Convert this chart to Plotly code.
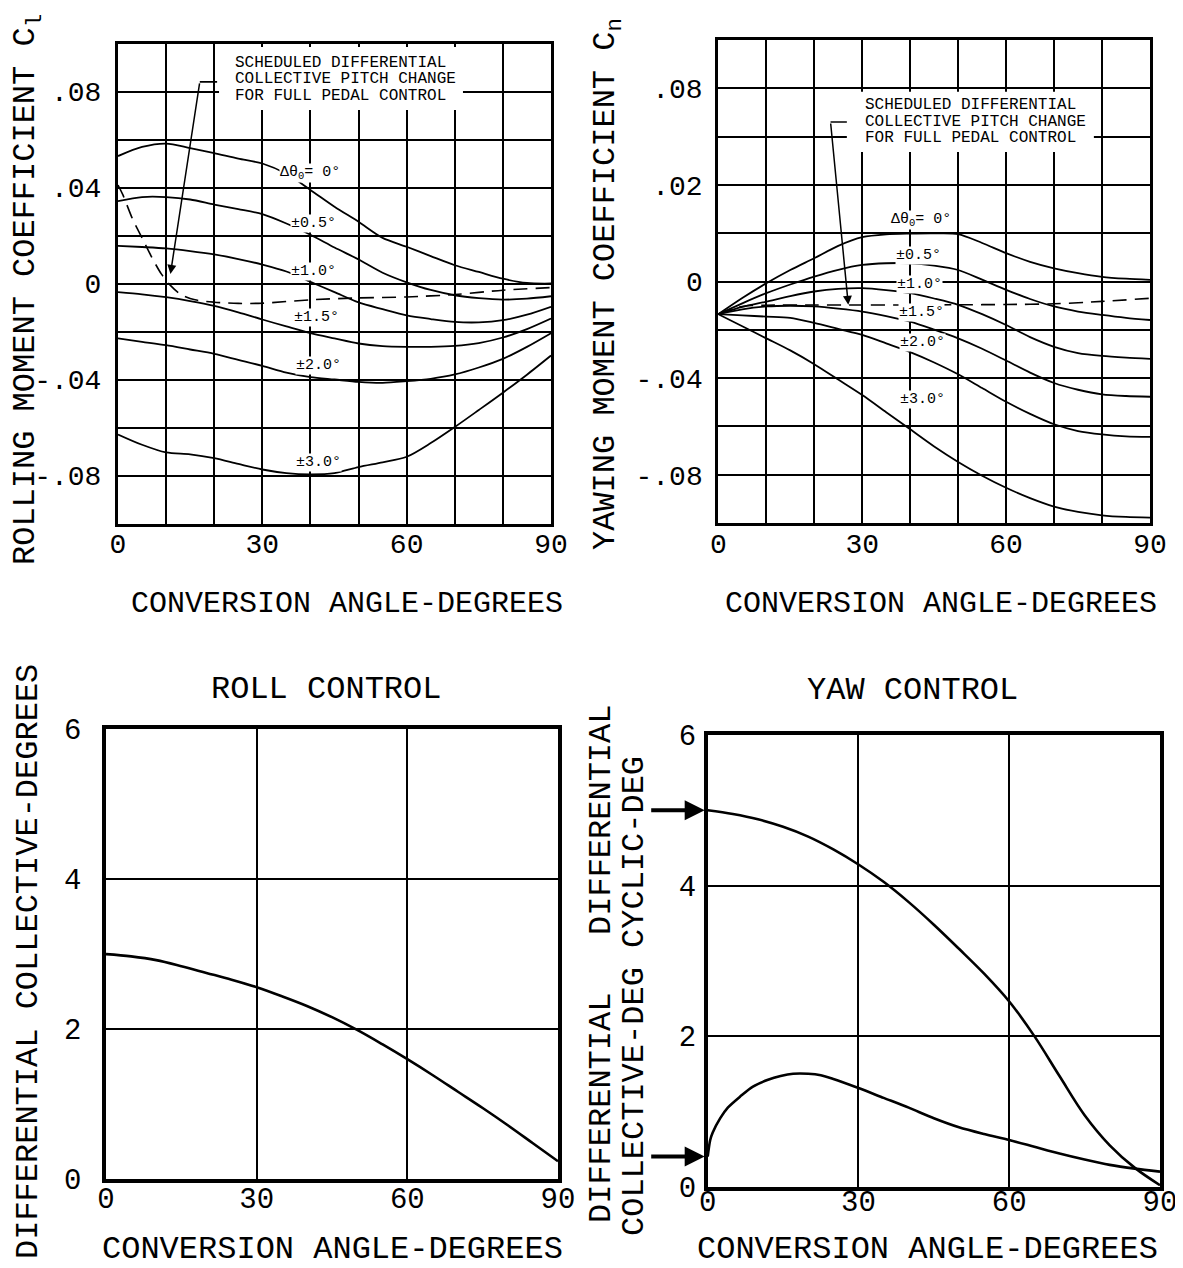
import plotly.graph_objects as go

W, H = 1183, 1268
OFF = 8  # the page body margin shifts the figure by this many pixels

# ---------------- data ----------------
ANG5 = [0, 5, 10, 15, 20, 25, 30, 35, 40, 45, 50, 55, 60, 65, 70, 75, 80, 85, 90]

# Rolling moment coefficient C_l vs conversion angle, for differential collective
CL_0 = [0.0531, 0.0569, 0.0583, 0.0564, 0.0543, 0.052, 0.050, 0.0457, 0.039, 0.032, 0.0257,
        0.019, 0.0153, 0.0114, 0.0076, 0.0048, 0.002, 0.0002, 0.0]
CL_05 = [0.0343, 0.036, 0.036, 0.035, 0.0329, 0.031, 0.0289, 0.025, 0.0203, 0.015, 0.010,
         0.0045, 0.0005, -0.0027, -0.0049, -0.0061, -0.0067, -0.0063, -0.0053]
CL_10 = [0.0157, 0.0152, 0.0146, 0.0135, 0.0121, 0.0102, 0.0079, 0.005, 0.0007, -0.0036, -0.0079,
         -0.0107, -0.0133, -0.0148, -0.016, -0.0162, -0.0153, -0.013, -0.0097]
CL_15 = [-0.0036, -0.0045, -0.0057, -0.0073, -0.0093, -0.012, -0.015, -0.0179, -0.0207, -0.0229, -0.025,
         -0.0261, -0.0264, -0.0264, -0.026, -0.0248, -0.0225, -0.019, -0.0146]
CL_20 = [-0.0229, -0.0243, -0.0257, -0.0275, -0.0293, -0.0318, -0.0343, -0.0371, -0.039, -0.040, -0.041,
         -0.0414, -0.0407, -0.0397, -0.0379, -0.035, -0.0314, -0.0264, -0.0207]
CL_30 = [-0.0629, -0.0672, -0.0704, -0.0712, -0.0728, -0.0752, -0.0775, -0.079, -0.0795, -0.079, -0.0765,
         -0.0745, -0.0722, -0.0665, -0.0598, -0.0527, -0.0455, -0.038, -0.030]
CL_SCHED_X = [0, 1, 3, 5, 7, 9, 11, 13, 16, 20, 25, 30, 40, 50, 60, 70, 80, 90]
CL_SCHED = [0.041, 0.037, 0.027, 0.019, 0.011, 0.004, -0.001, -0.0045, -0.0068, -0.0078, -0.0083,
            -0.0082, -0.0068, -0.006, -0.0056, -0.0046, -0.0028, -0.0017]

# Yawing moment coefficient C_n
CN_0 = [-0.0135, -0.0068, -0.0007, 0.0048, 0.0097, 0.0148, 0.0184, 0.0196, 0.0199, 0.020, 0.0197,
        0.016, 0.0118, 0.0082, 0.0055, 0.0035, 0.002, 0.0012, 0.0007]
CN_05 = [-0.0135, -0.009, -0.0048, -0.0012, 0.0021, 0.0049, 0.0069, 0.0076, 0.0076, 0.0066, 0.0048,
         0.0008, -0.0034, -0.0072, -0.0103, -0.0124, -0.0138, -0.015, -0.0159]
CN_10 = [-0.0135, -0.0105, -0.0083, -0.006, -0.0041, -0.003, -0.0027, -0.0035, -0.0048, -0.007, -0.0096,
         -0.0135, -0.018, -0.023, -0.027, -0.0296, -0.0308, -0.0315, -0.032]
CN_15 = [-0.0135, -0.0115, -0.0103, -0.010, -0.0103, -0.0112, -0.0124, -0.0143, -0.0166, -0.0199, -0.0235,
         -0.0278, -0.0327, -0.0377, -0.042, -0.0448, -0.0467, -0.0474, -0.0477]
CN_20 = [-0.0135, -0.014, -0.0145, -0.015, -0.0171, -0.0196, -0.0221, -0.0256, -0.0292, -0.0335, -0.0384,
         -0.0441, -0.0498, -0.0548, -0.0591, -0.0619, -0.0633, -0.0641, -0.0643]
CN_30 = [-0.0135, -0.0185, -0.0235, -0.0285, -0.0342, -0.0406, -0.047, -0.0541, -0.0612, -0.0683, -0.0747,
         -0.0804, -0.0854, -0.0897, -0.0932, -0.0954, -0.0968, -0.0975, -0.0978]
CN_SCHED_X = [0, 5, 10, 20, 30, 40, 50, 60, 70, 80, 90]
CN_SCHED = [-0.0135, -0.0103, -0.0098, -0.0097, -0.0097, -0.0097, -0.0096, -0.0095, -0.0092, -0.0082, -0.0069]

# Roll control: differential collective (deg)
ROLL_COLL = [3.0, 2.97, 2.92, 2.84, 2.75, 2.66, 2.56, 2.44, 2.31, 2.16, 1.99, 1.80, 1.60, 1.39,
             1.17, 0.95, 0.72, 0.48, 0.24]

# Yaw control
YAW_CYC = [5.0, 4.95, 4.88, 4.78, 4.65, 4.48, 4.28, 4.05, 3.78, 3.48, 3.16, 2.83, 2.46, 2.0,
           1.47, 0.95, 0.55, 0.25, 0.02]
YAW_COLL_X = [0, 0.5, 1, 2.5, 4, 6.5, 9, 12, 14.5, 17, 20, 22.5, 25, 30, 35, 40, 45, 50, 55,
              60, 65, 70, 75, 80, 85, 90]
YAW_COLL = [0.40, 0.62, 0.72, 0.91, 1.05, 1.20, 1.33, 1.42, 1.47, 1.50, 1.50, 1.48, 1.43, 1.31,
            1.18, 1.05, 0.91, 0.79, 0.70, 0.62, 0.53, 0.44, 0.36, 0.29, 0.24, 0.20]

CURVE_LABELS = ["Δθ<sub>0</sub>= 0°", "±0.5°", "±1.0°", "±1.5°", "±2.0°", "±3.0°"]
CL_LABEL_POS = [(40.0, 0.046), (40.7, 0.0252), (40.6, 0.0048), (41.2, -0.0143), (41.6, -0.0343), (41.6, -0.0745)]
CN_LABEL_POS = [(42.2, 0.0255), (41.8, 0.011), (42.0, -0.001), (42.3, -0.0128), (42.5, -0.0252), (42.5, -0.049)]

X_GRID = [0, 10, 20, 30, 40, 50, 60, 70, 80, 90]
X_TEXT = ['0', '', '', '30', '', '', '60', '', '', '90']
Y_GRID = [-0.1, -0.08, -0.06, -0.04, -0.02, 0.0, 0.02, 0.04, 0.06, 0.08, 0.1]
CL_YTEXT = ['', '-.08', '', '-.04', '', '0', '', '.04', '', '.08', '']
CN_YTEXT = ['', '-.08', '', '-.04', '', '0', '', '.02', '', '.08', '']
XB_TICKS = [0, 30, 60, 90]
YB_TICKS = [0, 2, 4, 6]

NOTE = ["SCHEDULED DIFFERENTIAL", "COLLECTIVE PITCH CHANGE", "FOR FULL PEDAL CONTROL"]

FONT = "Liberation Mono"


# ---------------- helpers ----------------
def px(p):
    return (p - OFF) / W


def py(p):
    return 1 - (p - OFF) / H


fig = go.Figure()


def line(x, y, xa, ya, dash='solid', width=1.8, smoothing=0.8):
    fig.add_trace(go.Scatter(x=x, y=y, mode='lines', xaxis=xa, yaxis=ya,
                             line=dict(color='black', width=width, dash=dash, shape='spline',
                                       smoothing=smoothing),
                             showlegend=False, hoverinfo='skip'))


for ys in [CL_0, CL_05, CL_10, CL_15, CL_20, CL_30]:
    line(ANG5, ys, 'x', 'y')
line(CL_SCHED_X, CL_SCHED, 'x', 'y', dash='14px,8px', width=1.6)

for ys in [CN_0, CN_05, CN_10, CN_15, CN_20, CN_30]:
    line(ANG5, ys, 'x2', 'y2')
line(CN_SCHED_X, CN_SCHED, 'x2', 'y2', dash='14px,8px', width=1.6)

line(ANG5, ROLL_COLL, 'x3', 'y3', width=2.6, smoothing=1.0)
line(ANG5, YAW_CYC, 'x4', 'y4', width=2.6, smoothing=1.0)
line(YAW_COLL_X, YAW_COLL, 'x4', 'y4', width=2.6)

# pointer stubs
fig.add_trace(go.Scatter(x=[17.0, 20.6], y=[0.084, 0.084], mode='lines', xaxis='x', yaxis='y',
                         line=dict(color='black', width=1.6), showlegend=False, hoverinfo='skip'))
fig.add_trace(go.Scatter(x=[23.4, 27.0], y=[0.0661, 0.0661], mode='lines', xaxis='x2', yaxis='y2',
                         line=dict(color='black', width=1.6), showlegend=False, hoverinfo='skip'))

top_tickfont = dict(family=FONT, size=28, color='black')
bot_tickfont = dict(family=FONT, size=29, color='black')


def top_x(dom, anchor):
    return dict(domain=dom, range=[0, 90], tickvals=X_GRID, ticktext=X_TEXT, showline=True, mirror=True,
                linecolor='black', linewidth=3, showgrid=True, gridcolor='black', gridwidth=1.6,
                zeroline=False, ticks='', ticklabelstandoff=-7, anchor=anchor,
                tickfont=top_tickfont, fixedrange=True, automargin=False)


def top_y(dom, txt, anchor, tl):
    return dict(domain=dom, range=[-0.1, 0.1], tickvals=Y_GRID, ticktext=txt, showline=True, mirror=True,
                linecolor='black', linewidth=3, showgrid=True, gridcolor='black', gridwidth=1.6,
                zeroline=False, ticks='outside', ticklen=tl, tickcolor='rgba(0,0,0,0)',
                tickfont=top_tickfont, anchor=anchor, fixedrange=True, automargin=False)


def bot_x(dom, anchor, standoff):
    return dict(domain=dom, range=[0, 90], tickvals=XB_TICKS, showline=True, mirror=True,
                linecolor='black', linewidth=3.5, showgrid=True, gridcolor='black', gridwidth=2.4,
                zeroline=False, ticks='', ticklabelstandoff=standoff, anchor=anchor,
                tickfont=bot_tickfont, fixedrange=True, automargin=False)


def bot_y(dom, anchor, tl):
    return dict(domain=dom, range=[0, 6], tickvals=YB_TICKS, showline=True, mirror=True,
                linecolor='black', linewidth=3.5, showgrid=True, gridcolor='black', gridwidth=2.4,
                zeroline=False, ticks='outside', ticklen=tl, tickcolor='rgba(0,0,0,0)',
                tickfont=bot_tickfont, anchor=anchor, fixedrange=True, automargin=False)


xa1 = top_x([px(118), px(551)], 'y')
ya1 = top_y([py(523.5), py(43.5)], CL_YTEXT, 'x', 8)
xa2 = top_x([px(718.3), px(1150)], 'y2')
ya2 = top_y([py(523), py(40.2)], CN_YTEXT, 'x2', 7)
xa3 = bot_x([px(106), px(558)], 'y3', -10)
ya3 = bot_y([py(1179.3), py(729)], 'x3', 15)
xa4 = bot_x([px(707.7), px(1160)], 'y4', -14)
ya4 = bot_y([py(1186.7), py(735)], 'x4', 2)

ann = []
shapes = []

# white boxes behind notes
shapes.append(dict(type='rect', xref='x', yref='y', x0=21.0, x1=71.7, y0=0.0723, y1=0.0985,
                   fillcolor='white', line=dict(width=0), layer='above'))
shapes.append(dict(type='rect', xref='x2', yref='y2', x0=26.8, x1=78.3, y0=0.0537, y1=0.0786,
                   fillcolor='white', line=dict(width=0), layer='above'))

note_font = dict(family=FONT, size=16, color='black')
for i, t in enumerate(NOTE):
    ann.append(dict(text=t, xref='paper', yref='paper', x=px(233), y=py(63 + 16.5 * i), xanchor='left',
                    yanchor='middle', showarrow=False, font=note_font))
    ann.append(dict(text=t, xref='paper', yref='paper', x=px(863), y=py(105 + 16.5 * i), xanchor='left',
                    yanchor='middle', showarrow=False, font=note_font))

# pointer arrows
ann.append(dict(text='', x=10.9, y=0.004, xref='x', yref='y', ax=17.0, ay=0.084, axref='x', ayref='y',
                showarrow=True, arrowhead=2, arrowsize=1.2, arrowwidth=1.5, arrowcolor='black'))
ann.append(dict(text='', x=27.1, y=-0.0096, xref='x2', yref='y2', ax=23.4, ay=0.0661, axref='x2', ayref='y2',
                showarrow=True, arrowhead=2, arrowsize=1.2, arrowwidth=1.5, arrowcolor='black'))

# curve labels
lab_font = dict(family=FONT, size=15, color='black')
for t, (x, y) in zip(CURVE_LABELS, CL_LABEL_POS):
    ann.append(dict(text=t, x=x, y=y, xref='x', yref='y', showarrow=False, font=lab_font,
                    bgcolor='white', borderpad=0, xanchor='center', yanchor='middle'))
for t, (x, y) in zip(CURVE_LABELS, CN_LABEL_POS):
    ann.append(dict(text=t, x=x, y=y, xref='x2', yref='y2', showarrow=False, font=lab_font,
                    bgcolor='white', borderpad=0, xanchor='center', yanchor='middle'))

# axis titles
title_font = dict(family=FONT, size=30, color='black')
ytitle_font = dict(family=FONT, size=32, color='black')
big_font = dict(family=FONT, size=32, color='black')


def label(text, x, y, font, angle=0):
    ann.append(dict(text=text, xref='paper', yref='paper', x=px(x), y=py(y), textangle=angle,
                    xanchor='center', yanchor='middle', showarrow=False, font=font))


label("ROLLING MOMENT COEFFICIENT C<sub>l</sub>", 28, 290, ytitle_font, -90)
label("YAWING MOMENT COEFFICIENT C<sub>n</sub>", 607, 284, ytitle_font, -90)
label("CONVERSION ANGLE-DEGREES", 347, 604, title_font)
label("CONVERSION ANGLE-DEGREES", 941, 604, title_font)
label("CONVERSION ANGLE-DEGREES", 332, 1249, big_font)
label("CONVERSION ANGLE-DEGREES", 927, 1249, big_font)
label("ROLL CONTROL", 326, 689, big_font)
label("YAW CONTROL", 912, 690, big_font)
label("DIFFERENTIAL COLLECTIVE-DEGREES", 28, 962, big_font, -90)
label("DIFFERENTIAL   DIFFERENTIAL", 601, 964, big_font, -90)
label("COLLECTIVE-DEG CYCLIC-DEG", 634, 996, big_font, -90)

# arrows pointing at the yaw-control start values
ann.append(dict(text='', x=0, y=YAW_CYC[0], xref='x4', yref='y4', ax=-58, ay=0, axref='pixel', ayref='pixel',
                showarrow=True, arrowhead=2, arrowsize=1.0, arrowwidth=4, arrowcolor='black', standoff=3))
ann.append(dict(text='', x=0, y=YAW_COLL[0], xref='x4', yref='y4', ax=-58, ay=0, axref='pixel', ayref='pixel',
                showarrow=True, arrowhead=2, arrowsize=1.0, arrowwidth=4, arrowcolor='black', standoff=3))

fig.update_layout(width=W, height=H, margin=dict(l=0, r=0, t=0, b=0, pad=0, autoexpand=False),
                  paper_bgcolor='white', plot_bgcolor='white', showlegend=False,
                  xaxis=xa1, yaxis=ya1, xaxis2=xa2, yaxis2=ya2, xaxis3=xa3, yaxis3=ya3,
                  xaxis4=xa4, yaxis4=ya4, annotations=ann, shapes=shapes)

fig.write_html("out.html")
